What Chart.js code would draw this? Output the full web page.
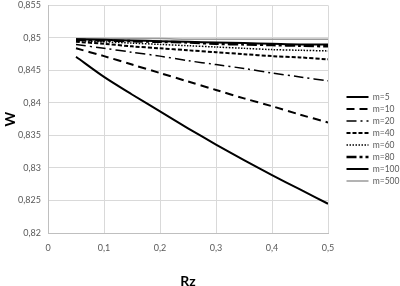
<!DOCTYPE html>
<html>
<head>
<meta charset="utf-8">
<script src="https://cdn.jsdelivr.net/npm/chart.js@4"></script>
<style>
  body { margin: 0; background: #fff; }
  #wrap { width: 400px; height: 286px; }
</style>
</head>
<body>
<div id="wrap"><canvas id="chart" width="400" height="286"></canvas></div>
<script>
  "use strict";

  // Rz values
  var rz = [0.05, 0.1, 0.15, 0.2, 0.25, 0.3, 0.35, 0.4, 0.45, 0.5];

  // W for each m
  var m5 = [0.8471, 0.8440, 0.8413, 0.8387, 0.8361, 0.8336, 0.8312, 0.8289, 0.8267, 0.8245];
  var m10 = [0.8484, 0.8472, 0.8459, 0.8446, 0.8433, 0.8420, 0.8407, 0.8395, 0.8382, 0.8370];
  var m20 = [0.8490, 0.8484, 0.8478, 0.8472, 0.8465, 0.8459, 0.8453, 0.8446, 0.8440, 0.8434];
  var m40 = [0.8494, 0.8491, 0.8487, 0.8484, 0.8481, 0.8478, 0.8475, 0.8472, 0.8470, 0.8467];
  var m60 = [0.8496, 0.8494, 0.8492, 0.8490, 0.8488, 0.8486, 0.8484, 0.8482, 0.8481, 0.8480];
  var m80 = [0.8497, 0.8496, 0.8495, 0.8494, 0.8493, 0.8491, 0.8490, 0.8489, 0.8488, 0.8487];
  var m100 = [0.8498, 0.8497, 0.8496, 0.8495, 0.8494, 0.8493, 0.8492, 0.8491, 0.8490, 0.8490];
  var m500 = [0.8499, 0.8499, 0.8499, 0.8499, 0.8498, 0.8498, 0.8498, 0.8498, 0.8498, 0.8498];

  var labels = ["m=5", "m=10", "m=20", "m=40", "m=60", "m=80", "m=100", "m=500"];

  function pts(ys) {
    return rz.map(function (x, i) { return { x: x, y: ys[i] }; });
  }

  function comma(v) {
    return String(+v.toFixed(3)).replace(".", ",");
  }

  var series = [
    { data: m5, color: "#000", width: 2, dash: [] },
    { data: m10, color: "#000", width: 2, dash: [8, 5] },
    { data: m20, color: "#000", width: 1.5, dash: [10, 4, 2, 4] },
    { data: m40, color: "#000", width: 2, dash: [4, 2] },
    { data: m60, color: "#000", width: 1.5, dash: [1.5, 1.5] },
    { data: m80, color: "#000", width: 2.5, dash: [10, 3, 3, 3] },
    { data: m100, color: "#000", width: 2, dash: [] },
    { data: m500, color: "#9a9a9a", width: 1.5, dash: [] },
  ];

  var tickFont = { family: "Lato", size: 9 };

  var ctx = document.getElementById("chart").getContext("2d");
  var chart = new Chart(ctx, {
    type: "line",
    data: {
      datasets: series.map(function (s, i) {
        return {
          label: labels[i],
          data: pts(s.data),
          borderColor: s.color,
          backgroundColor: s.color,
          borderWidth: s.width,
          borderDash: s.dash,
          pointRadius: 0,
          tension: 0.3,
          fill: false,
        };
      }),
    },
    options: {
      responsive: false,
      animation: false,
      layout: { padding: 0 },
      plugins: {
        tooltip: { enabled: false },
        legend: {
          position: "right",
          labels: {
            usePointStyle: true,
            pointStyle: "line",
            pointStyleWidth: 22,
            boxHeight: 8,
            padding: 3.5,
            color: "#595959",
            font: { family: "Lato", size: 8.5 },
            generateLabels: function (c) {
              var items = Chart.defaults.plugins.legend.labels.generateLabels(c);
              items.forEach(function (it, i) {
                it.lineDash = series[i].dash;
                it.lineWidth = series[i].width;
                it.strokeStyle = series[i].color;
              });
              return items;
            },
          },
        },
      },
      scales: {
        x: {
          type: "linear",
          min: 0,
          max: 0.5,
          afterFit: function (s) { s.height = 53; },
          ticks: {
            stepSize: 0.1,
            color: "#595959",
            font: tickFont,
            padding: 0,
            callback: function (v) { return comma(v); },
          },
          grid: { color: "#d9d9d9", tickLength: 10, tickColor: "rgba(0,0,0,0)" },
          border: { color: "#bfbfbf" },
          title: {
            display: true,
            text: "Rz",
            color: "#000",
            font: { family: "Lato", size: 14, weight: "bold" },
            padding: { top: 0, bottom: -4 },
          },
        },
        y: {
          min: 0.82,
          max: 0.855,
          afterFit: function (s) { s.width = 48; },
          ticks: {
            stepSize: 0.005,
            color: "#595959",
            font: tickFont,
            padding: 0,
            callback: function (v) { return comma(v); },
          },
          grid: { color: "#d9d9d9", tickLength: 7, tickColor: "rgba(0,0,0,0)" },
          border: { color: "#bfbfbf" },
          title: {
            display: true,
            text: "W",
            color: "#000",
            font: { family: "Lato", size: 14, weight: "bold" },
            padding: { top: 2, bottom: 0 },
          },
        },
      },
    },
  });

  // legend sits a bit away from the plot, like the original
  var legendFit = chart.legend.fit;
  chart.legend.fit = function () {
    legendFit.call(this);
    this.width = 72;
  };
  var legendDraw = chart.legend.draw;
  chart.legend.draw = function () {
    var c = this.ctx;
    c.save();
    c.translate(15, -4);
    legendDraw.call(this);
    c.restore();
  };
  chart.update();
</script>
</body>
</html>
